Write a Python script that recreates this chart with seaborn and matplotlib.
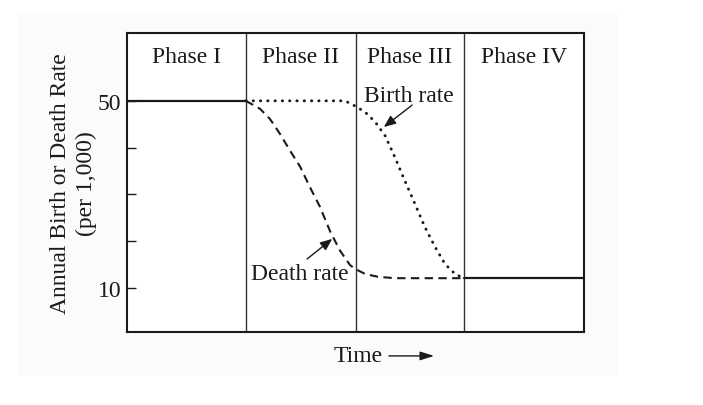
import pandas as pd
import matplotlib.pyplot as plt
import seaborn as sns
from matplotlib.patches import Rectangle

sns.set_style('white')
plt.rcParams['font.family'] = ['Liberation Serif', 'DejaVu Serif']

# Time axis in arbitrary units (0-100), phase boundaries
phase_edges = [0, 26.0, 50.1, 73.7, 100]
phase_names = ['Phase I', 'Phase II', 'Phase III', 'Phase IV']

# Phase I: both rates high and equal
high_t = [0, 26.0]
high_v = [50, 50]

# Death rate (dashed) falls in phase II
death_t = [26.0, 29.1, 31.3, 33.5, 35.7, 37.9, 40.0, 42.2, 44.4, 46.6, 48.8,
           49.9, 52.1, 54.9, 58.6, 73.7]
death_v = [50, 48.3, 46.1, 42.9, 39.3, 35.9, 31.6, 27.4, 22.2, 18.0, 14.9,
           14.1, 13.0, 12.4, 12.1, 12.1]

# Birth rate (dotted) stays high, then falls in phase III
birth_t = [26.0, 47.7, 49.9, 52.1, 54.3, 56.5, 58.6, 60.8, 63.0, 65.2, 67.4,
           69.6, 71.8, 73.7]
birth_v = [50, 50, 48.9, 47.6, 45.5, 42.5, 38.0, 32.9, 28.0, 23.0, 18.8,
           15.1, 13.0, 12.1]

# Phase IV: both rates low and equal
low_t = [73.7, 100]
low_v = [12.1, 12.1]

ink = '#1a1a1a'

fig = plt.figure(figsize=(7.03, 4.06), dpi=100)
bg = Rectangle((18 / 703, 1 - 377 / 406), 599 / 703, 364 / 406,
               transform=fig.transFigure, facecolor='#fbfbfb',
               edgecolor='none', zorder=-10)
fig.add_artist(bg)
ax = fig.add_axes([0.1807, 0.1798, 0.650, 0.7365])
ax.set_zorder(1)
ax.set_facecolor('white')

sns.lineplot(x=high_t, y=high_v, ax=ax, color=ink, lw=1.6)
sns.lineplot(x=low_t, y=low_v, ax=ax, color=ink, lw=1.6)
sns.lineplot(x=death_t, y=death_v, ax=ax, color=ink, lw=1.5, linestyle=(0, (4, 2.6)))
ax.lines[-1].set_dash_capstyle('butt')
sns.lineplot(x=birth_t, y=birth_v, ax=ax, color=ink, lw=2.1, linestyle=(0, (0.1, 2.4)))
ax.lines[-1].set_dash_capstyle('round')

for edge in phase_edges[1:-1]:
    ax.axvline(edge, color='#333333', lw=1.0, zorder=1)

for i, name in enumerate(phase_names):
    mid = (phase_edges[i] + phase_edges[i + 1]) / 2
    ax.text(mid, 0.903, name, transform=ax.get_xaxis_transform(),
            ha='center', va='baseline', fontsize=17, color=ink)

# Curve labels with arrows
ax.text(61.7, 50.0, 'Birth rate', ha='center', va='baseline', fontsize=17, color=ink)
ax.annotate('', xy=(56.2, 44.4), xytext=(62.4, 49.1),
            arrowprops=dict(arrowstyle='-|>,head_length=0.6,head_width=0.25',
                            color=ink, lw=1.0, mutation_scale=12, shrinkA=0, shrinkB=0))
ax.text(37.9, 11.9, 'Death rate', ha='center', va='baseline', fontsize=17, color=ink)
ax.annotate('', xy=(44.9, 20.5), xytext=(39.4, 16.2),
            arrowprops=dict(arrowstyle='-|>,head_length=0.6,head_width=0.25',
                            color=ink, lw=1.0, mutation_scale=12, shrinkA=0, shrinkB=0))

ax.set_xlim(0, 100)
ax.set_ylim(0.6, 64.5)
ax.set_xticks([])
ax.set_yticks([10, 20, 30, 40, 50])
ax.set_yticklabels(['10', '', '', '', '50'])
ax.tick_params(axis='y', direction='in', length=6.5, width=1.0, colors=ink,
               labelsize=17, pad=4, left=True)

for sp in ax.spines.values():
    sp.set_visible(True)
    sp.set_color(ink)
    sp.set_linewidth(1.5)

ax.set_ylabel('Annual Birth or Death Rate\n(per 1,000)', fontsize=17, color=ink,
              linespacing=1.3)
ax.yaxis.set_label_coords(-0.066, 0.5)

ax.set_xlabel('Time', fontsize=17, color=ink)
ax.xaxis.label.set_va('center')
ax.xaxis.set_label_coords(0.505, -0.077)
ax.annotate('', xy=(0.672, -0.080), xytext=(0.573, -0.080), xycoords='axes fraction',
            arrowprops=dict(arrowstyle='-|>,head_length=0.7,head_width=0.22',
                            color=ink, lw=1.0, mutation_scale=12, shrinkA=0, shrinkB=0),
            annotation_clip=False)

fig.savefig('out.png', dpi=100, facecolor='white')
